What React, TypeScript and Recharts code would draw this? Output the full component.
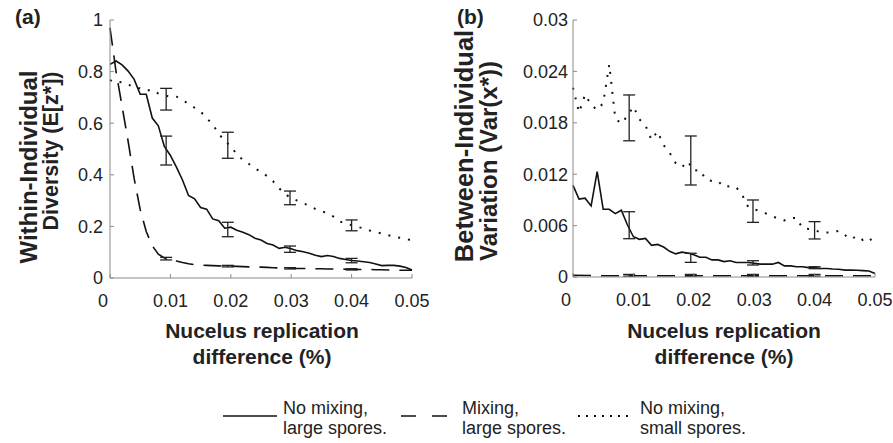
import React from 'react';
import { ComposedChart, Line, Scatter, ErrorBar, XAxis, YAxis } from 'recharts';

// x grid of the simulations (nucleus replication difference)
const xFine = [
  0, 0.001, 0.002, 0.003, 0.004, 0.005, 0.006, 0.007, 0.008, 0.009, 0.01,
  0.011, 0.012, 0.013, 0.014, 0.015, 0.016, 0.017, 0.018, 0.019, 0.02,
  0.021, 0.022, 0.023, 0.024, 0.025, 0.026, 0.027, 0.028, 0.029, 0.03,
  0.031, 0.032, 0.033, 0.034, 0.035, 0.036, 0.037, 0.038, 0.039, 0.04,
  0.041, 0.042, 0.043, 0.044, 0.045, 0.046, 0.047, 0.048, 0.049, 0.05,
];
const xCoarse = [0, 0.005, 0.01, 0.015, 0.02, 0.025, 0.03, 0.035, 0.04, 0.045, 0.05];
const xTicks = [0, 0.01, 0.02, 0.03, 0.04, 0.05];
const aTicks = [0, 0.2, 0.4, 0.6, 0.8, 1];
const bTicks = [0, 0.006, 0.012, 0.018, 0.024, 0.03];
const errX = [0.0093, 0.0195, 0.0298, 0.04];

// (a) within-individual diversity
const aSolid = [
  0.828, 0.841, 0.826, 0.802, 0.77, 0.712, 0.712, 0.62, 0.59, 0.51, 0.475,
  0.43, 0.38, 0.32, 0.307, 0.273, 0.267, 0.229, 0.222, 0.193, 0.197,
  0.185, 0.177, 0.168, 0.154, 0.147, 0.134, 0.128, 0.115, 0.119, 0.113,
  0.106, 0.102, 0.096, 0.088, 0.083, 0.087, 0.083, 0.076, 0.072, 0.068,
  0.066, 0.063, 0.06, 0.054, 0.048, 0.049, 0.049, 0.046, 0.041, 0.031,
];
const aDashed = [
  0.97, 0.8, 0.665, 0.53, 0.385, 0.265, 0.18, 0.125, 0.092, 0.078, 0.074,
  0.066, 0.06, 0.055, 0.052, 0.05, 0.049, 0.048, 0.047, 0.046, 0.046,
  0.045, 0.044, 0.043, 0.043, 0.042, 0.041, 0.04, 0.039, 0.039, 0.038,
  0.037, 0.037, 0.036, 0.036, 0.036, 0.035, 0.035, 0.035, 0.034, 0.034,
  0.033, 0.033, 0.033, 0.032, 0.032, 0.031, 0.031, 0.03, 0.03, 0.03,
];
const aDotted = [
  0.767, 0.757, 0.76, 0.75, 0.74, 0.735, 0.726, 0.73, 0.715, 0.708, 0.703,
  0.703, 0.69, 0.675, 0.66, 0.645, 0.62, 0.595, 0.56, 0.53, 0.512,
  0.478, 0.458, 0.442, 0.425, 0.412, 0.395, 0.375, 0.348, 0.325, 0.31,
  0.3, 0.29, 0.28, 0.268, 0.26, 0.25, 0.238, 0.22, 0.21, 0.205,
  0.198, 0.192, 0.184, 0.178, 0.172, 0.166, 0.16, 0.156, 0.152, 0.145,
];
const aSolidLo = [0.438, 0.16, 0.0995, 0.059];
const aSolidHi = [0.55, 0.216, 0.124, 0.076];
const aDashedLo = [0.07, 0.043, 0.035, 0.031];
const aDashedHi = [0.08, 0.049, 0.04, 0.036];
const aDottedLo = [0.651, 0.464, 0.284, 0.183];
const aDottedHi = [0.735, 0.565, 0.337, 0.225];

// (b) between-individual variation
const bSolid = [
  0.0107, 0.0091, 0.0092, 0.0083, 0.0123, 0.0079, 0.0079, 0.0074, 0.0078, 0.0061, 0.0047,
  0.0044, 0.0045, 0.0037, 0.0038, 0.0035, 0.003, 0.0027, 0.0029, 0.0028, 0.0026,
  0.0023, 0.0023, 0.002, 0.002, 0.0018, 0.0019, 0.0017, 0.0017, 0.0017, 0.0016,
  0.0015, 0.0015, 0.0015, 0.0017, 0.0013, 0.0013, 0.0012, 0.0012, 0.0011, 0.0011,
  0.001, 0.001, 0.00093, 0.0009, 0.0008, 0.0008, 0.00078, 0.00074, 0.0007, 0.0004,
];
const bDashed = [0.0002, 0.00015, 0.00015, 0.00015, 0.00015, 0.00015, 0.00015, 0.00015, 0.00015, 0.00015, 0.00015];
const bDotted = [
  0.0221, 0.0192, 0.0213, 0.0201, 0.0195, 0.0203, 0.0248, 0.0185, 0.0179, 0.0188, 0.0199,
  0.0184, 0.0177, 0.016, 0.017, 0.0154, 0.0145, 0.0133, 0.0128, 0.0135, 0.0124,
  0.0125, 0.0114, 0.0112, 0.0112, 0.0105, 0.0106, 0.0105, 0.0096, 0.0082, 0.0079,
  0.0077, 0.0074, 0.0071, 0.0068, 0.0066, 0.0069, 0.0069, 0.0057, 0.0056, 0.0055,
  0.0052, 0.0052, 0.0052, 0.0054, 0.0049, 0.0044, 0.0048, 0.0043, 0.0046, 0.0038,
];
const bSolidLo = [0.00447, 0.00171, 0.0014, 0.00097];
const bSolidHi = [0.00762, 0.00277, 0.0019, 0.0012];
const bDashedLo = [0.0001, 0.0001, 0.0001, 0.0001];
const bDashedHi = [0.0003, 0.0003, 0.0003, 0.0003];
const bDottedLo = [0.0159, 0.01074, 0.00638, 0.00444];
const bDottedHi = [0.02125, 0.01646, 0.00899, 0.00646];

const toRows = (xs: number[], ys: number[]) => xs.map((x, i) => ({ x, y: ys[i] }));
const toErr = (lo: number[], hi: number[]) =>
  errX.map((x, i) => ({ x, y: (lo[i] + hi[i]) / 2, err: (hi[i] - lo[i]) / 2 }));

const INK = '#111';
const AXIS = '#8a8a8a';
const FONT = '"Liberation Sans", Arial, sans-serif';

const XTick = (props: any) => {
  const { x, y, payload } = props;
  return (
    <text x={payload.value === 0 ? x - 7 : x} y={y} dy={13} textAnchor="middle" fontSize={18} fill="#222">
      {payload.value}
    </text>
  );
};

const noShape = () => <g />;

type PanelProps = {
  left: number;
  width: number;
  height: number;
  yWidth: number;
  right: number;
  ticks: number[];
  yMargin: number;
  solid: { x: number; y: number }[];
  dashed: { x: number; y: number }[];
  dotted: { x: number; y: number }[];
  errs: { x: number; y: number; err: number }[][];
};

function Panel(p: PanelProps) {
  return (
    <div style={{ position: 'absolute', left: p.left, top: 0 }}>
      <ComposedChart width={p.width} height={p.height} margin={{ top: 20, right: p.right, bottom: 0, left: 0 }}>
        <XAxis
          dataKey="x"
          type="number"
          domain={[0, 0.05]}
          ticks={xTicks}
          interval={0}
          height={32}
          tickSize={-4}
          tickMargin={20}
          tick={<XTick />}
          stroke={AXIS}
        />
        <YAxis
          type="number"
          domain={[p.ticks[0], p.ticks[p.ticks.length - 1]]}
          ticks={p.ticks}
          interval={0}
          width={p.yWidth}
          tickSize={-4}
          tickMargin={p.yMargin}
          tick={{ fontSize: 18, fill: '#222' }}
          stroke={AXIS}
        />
        <Line data={p.dotted} dataKey="y" type="linear" stroke={INK} strokeWidth={2} strokeDasharray="2 8" dot={false} activeDot={false} isAnimationActive={false} />
        <Line data={p.dashed} dataKey="y" type="linear" stroke={INK} strokeWidth={1.6} strokeDasharray="18 10" dot={false} activeDot={false} isAnimationActive={false} />
        <Line data={p.solid} dataKey="y" type="linear" stroke={INK} strokeWidth={1.6} dot={false} activeDot={false} isAnimationActive={false} />
        {p.errs.map((e, i) => (
          <Scatter key={i} data={e} dataKey="y" shape={noShape} isAnimationActive={false}>
            <ErrorBar dataKey="err" direction="y" width={6} stroke="#222" strokeWidth={1.3} />
          </Scatter>
        ))}
      </ComposedChart>
    </div>
  );
}

export default function App() {
  return (
    <div style={{ position: 'absolute', left: 0, top: 0, width: 893, height: 443, background: '#fff', fontFamily: FONT }}>
      <Panel
        left={0}
        width={430}
        height={310}
        yWidth={110}
        right={18}
        ticks={aTicks}
        yMargin={11}
        solid={toRows(xFine, aSolid)}
        dashed={toRows(xFine, aDashed)}
        dotted={toRows(xFine, aDotted)}
        errs={[toErr(aSolidLo, aSolidHi), toErr(aDashedLo, aDashedHi), toErr(aDottedLo, aDottedHi)]}
      />
      <Panel
        left={440}
        width={453}
        height={309}
        yWidth={133}
        right={18}
        ticks={bTicks}
        yMargin={9}
        solid={toRows(xFine, bSolid)}
        dashed={toRows(xCoarse, bDashed)}
        dotted={toRows(xFine, bDotted)}
        errs={[toErr(bSolidLo, bSolidHi), toErr(bDashedLo, bDashedHi), toErr(bDottedLo, bDottedHi)]}
      />
      <svg width={893} height={443} style={{ position: 'absolute', left: 0, top: 0, pointerEvents: 'none' }}>
        <g fill="#222" fontFamily={FONT} fontWeight="bold">
          <text x={15} y={24} fontSize={21}>(a)</text>
          <text x={457} y={24} fontSize={21}>(b)</text>
          <text transform="translate(37,167) rotate(-90)" textAnchor="middle" fontSize={24}>Within-Individual</text>
          <text transform="translate(58,151) rotate(-90)" textAnchor="middle" fontSize={21.5}>Diversity (E[z*])</text>
          <text transform="translate(473,146) rotate(-90)" textAnchor="middle" fontSize={25.5}>Between-Individual</text>
          <text transform="translate(497,161) rotate(-90)" textAnchor="middle" fontSize={24}>Variation (Var(x*))</text>
          <text x={262} y={338} textAnchor="middle" fontSize={21}>Nucelus replication</text>
          <text x={262} y={364} textAnchor="middle" fontSize={21}>difference (%)</text>
          <text x={724} y={338} textAnchor="middle" fontSize={21}>Nucelus replication</text>
          <text x={724} y={364} textAnchor="middle" fontSize={21}>difference (%)</text>
        </g>
        <g fill="#222" fontFamily={FONT} fontSize={18}>
          <line x1={223} x2={277} y1={416} y2={416} stroke={INK} strokeWidth={1.6} />
          <text x={283} y={414}>No mixing,</text>
          <text x={283} y={434}>large spores.</text>
          <line x1={401} x2={447} y1={416} y2={416} stroke={INK} strokeWidth={1.6} strokeDasharray="15 16" />
          <text x={462} y={414}>Mixing,</text>
          <text x={462} y={434}>large spores.</text>
          <line x1={578} x2={628} y1={416} y2={416} stroke={INK} strokeWidth={2} strokeDasharray="2 6" />
          <text x={640} y={414}>No mixing,</text>
          <text x={640} y={434}>small spores.</text>
        </g>
      </svg>
    </div>
  );
}
